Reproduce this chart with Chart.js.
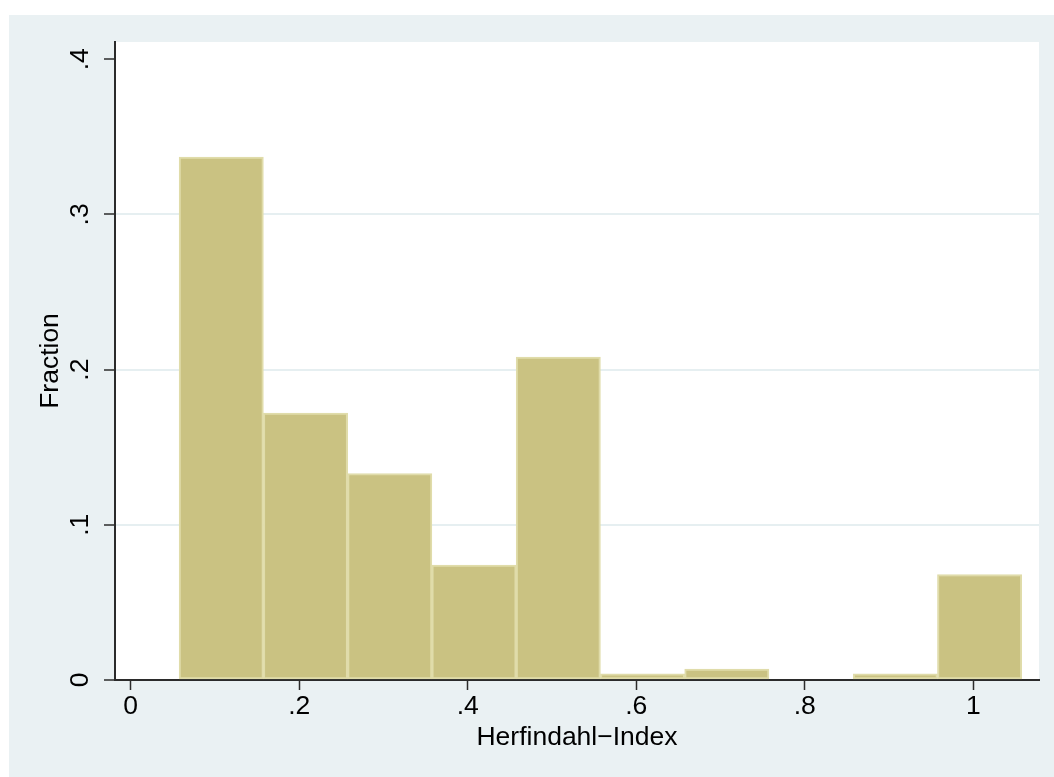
<!DOCTYPE html>
<html>
<head>
<meta charset="utf-8">
<script src="https://cdn.jsdelivr.net/npm/chart.js@4/dist/chart.umd.min.js"></script>
<style>
  html, body { margin: 0; padding: 0; background: #eaf1f3; overflow: hidden; }
  canvas { display: block; position: absolute; left: 0; top: 0; }
</style>
</head>
<body>
<canvas id="histChart" width="1054" height="777"></canvas>
<script>
// Histogram data (bin centres and fraction per bin)
const binCenters = [0.1075, 0.2075, 0.3075, 0.4075, 0.5075, 0.6075, 0.7075, 0.8075, 0.9075, 1.0075];
const fractions = [0.337, 0.172, 0.133, 0.074, 0.208, 0.004, 0.007, null, 0.004, 0.068];
const xTickValues = [0, 0.2, 0.4, 0.6, 0.8, 1];
const xTickLabels = ['0', '.2', '.4', '.6', '.8', '1'];
const yTickValues = [0, 0.1, 0.2, 0.3, 0.4];
const yTickLabels = ['0', '.1', '.2', '.3', '.4'];
const xTitle = 'Herfindahl\u2212Index';
const yTitle = 'Fraction';

const bgColor = '#eaf1f3';
const axisColor = '#2b2b2b';
const textFont = '26.5px "Liberation Sans", Arial, sans-serif';

// Stata-like frame: light outer region, white plot region
const backgroundPlugin = {
    id: 'stataBackground',
    beforeDraw(chart) {
        const c = chart.ctx;
        const a = chart.chartArea;
        c.save();
        c.fillStyle = '#ffffff';
        c.fillRect(0, 0, chart.width, chart.height);
        c.fillStyle = bgColor;
        c.fillRect(9, 15, chart.width - 9, chart.height - 15);
        c.fillStyle = '#ffffff';
        c.fillRect(a.left, a.top, a.right - a.left, a.bottom - a.top);
        c.restore();
    }
};

// Tick labels and axis titles (y labels are rotated, as in Stata)
const labelPlugin = {
    id: 'stataLabels',
    afterDraw(chart) {
        const c = chart.ctx;
        const xs = chart.scales.x;
        const ys = chart.scales.y;
        const a = chart.chartArea;
        c.save();
        c.fillStyle = '#000000';
        c.font = textFont;
        c.textAlign = 'center';
        c.textBaseline = 'middle';

        xTickValues.forEach((v, i) => {
            c.fillText(xTickLabels[i], xs.getPixelForValue(v), 707);
        });

        yTickValues.forEach((v, i) => {
            c.save();
            c.translate(81, ys.getPixelForValue(v));
            c.rotate(-Math.PI / 2);
            c.fillText(yTickLabels[i], 0, 0);
            c.restore();
        });

        c.textBaseline = 'alphabetic';
        c.fillText(xTitle, (a.left + a.right) / 2, 745);

        c.save();
        c.translate(51, (a.top + a.bottom) / 2);
        c.rotate(-Math.PI / 2);
        c.textBaseline = 'middle';
        c.fillText(yTitle, 0, 0);
        c.restore();

        c.restore();
    }
};

const ctx = document.getElementById('histChart').getContext('2d');
const histChart = new Chart(ctx, {
    type: 'bar',
    data: {
        datasets: [{
            data: binCenters.map((c, i) => ({ x: c, y: fractions[i] })),
            backgroundColor: 'rgb(202, 194, 130)',
            borderColor: 'rgb(224, 220, 170)',
            borderWidth: 2,
            borderSkipped: false,
            barPercentage: 1,
            categoryPercentage: 1
        }]
    },
    options: {
        responsive: false,
        animation: false,
        devicePixelRatio: 1,
        layout: { padding: { left: 0, top: 42, right: 15, bottom: 0 } },
        plugins: {
            legend: { display: false },
            tooltip: { enabled: false }
        },
        scales: {
            x: {
                type: 'linear',
                min: -0.0186,
                max: 1.078,
                offset: false,
                afterFit: (s) => { s.height = 97; },
                afterBuildTicks: (s) => { s.ticks = xTickValues.map(v => ({ value: v })); },
                ticks: { display: false, includeBounds: false },
                grid: {
                    offset: false,
                    drawOnChartArea: false,
                    drawTicks: true,
                    tickLength: 10,
                    tickColor: axisColor,
                    tickWidth: 1.5
                },
                border: { display: true, color: axisColor, width: 2 }
            },
            y: {
                type: 'linear',
                min: 0,
                max: 0.4111,
                afterFit: (s) => { s.width = 115; },
                afterBuildTicks: (s) => { s.ticks = yTickValues.map(v => ({ value: v })); },
                ticks: { display: false, includeBounds: false },
                grid: {
                    color: (c) => (c.tick && c.tick.value > 0.05 && c.tick.value < 0.35) ? '#e6eff1' : 'rgba(0,0,0,0)',
                    lineWidth: 2,
                    drawTicks: true,
                    tickLength: 11,
                    tickColor: axisColor,
                    tickWidth: 1.5
                },
                border: { display: true, color: axisColor, width: 2 }
            }
        }
    },
    plugins: [backgroundPlugin, labelPlugin]
});
</script>
</body>
</html>
